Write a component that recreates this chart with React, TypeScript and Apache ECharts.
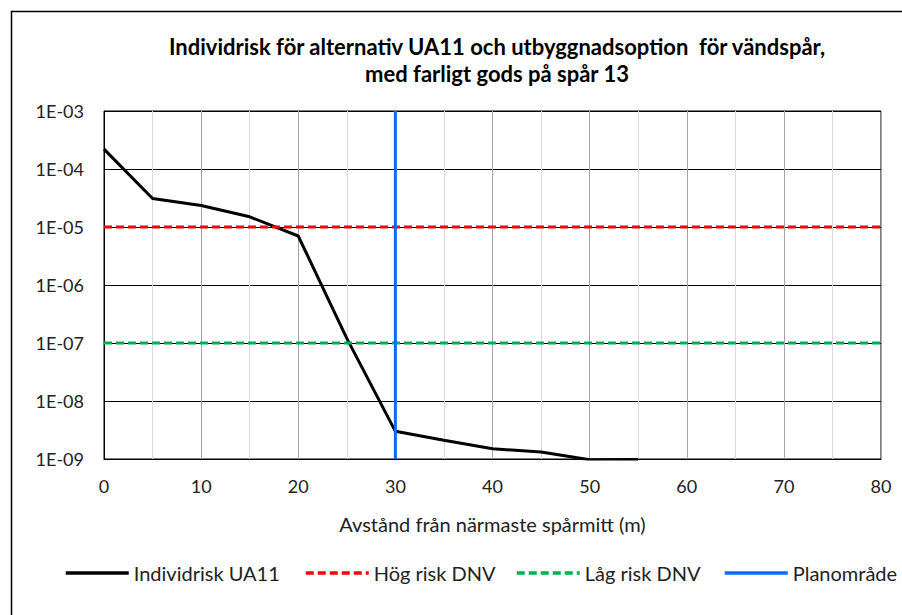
import React, { useEffect, useRef } from "react";
import * as echarts from "echarts";

const titleLines = [
  "Individrisk för alternativ UA11 och utbyggnadsoption  för vändspår,",
  "med farligt gods på spår 13",
];
const xAxisName = "Avstånd från närmaste spårmitt (m)";
const seriesNames = ["Individrisk UA11", "Hög risk DNV", "Låg risk DNV", "Planområde"];

const distances = [0, 5, 10, 15, 20, 25, 30, 35, 40, 45, 50, 55];
const individrisk = [2.2e-4, 3.1e-5, 2.35e-5, 1.5e-5, 7.0e-6, 1.2e-7, 3.0e-9, 2.1e-9, 1.5e-9, 1.32e-9, 9.7e-10, 9.8e-10];
const hogRisk = 1e-5;
const lagRisk = 1e-7;
const planX = 30;
const xRange = [0, 80];
const yRange = [1e-9, 1e-3];

const FONT = "Lato, 'Noto Sans', sans-serif";

export default function App() {
  const ref = useRef<HTMLDivElement>(null);
  useEffect(() => {
    if (!ref.current) return;
    const chart = echarts.init(ref.current, undefined, { renderer: "svg" });
    const fmt = (v: number) => {
      const e = Math.round(Math.log10(v));
      return "1E" + (e < 0 ? "-" : "+") + String(Math.abs(e)).padStart(2, "0");
    };
    const legendLefts = [64, 304, 515, 723];
    chart.setOption({
      animation: false,
      textStyle: { fontFamily: FONT },
      graphic: [
        {
          type: "rect",
          shape: { x: 11.5, y: 11.5, width: 1200, height: 1200 },
          style: { fill: "none", stroke: "#000", lineWidth: 1.5 },
          silent: true,
        },
        {
          type: "text",
          x: 497,
          y: 46,
          style: {
            text: titleLines[0],
            font: `bold 22px ${FONT}`,
            fill: "#000",
            textAlign: "center",
            textVerticalAlign: "middle",
          },
        },
        {
          type: "text",
          x: 497,
          y: 73,
          style: {
            text: titleLines[1],
            font: `bold 22px ${FONT}`,
            fill: "#000",
            textAlign: "center",
            textVerticalAlign: "middle",
          },
        },
      ],
      grid: {
        left: 104,
        top: 111,
        width: 777,
        height: 348,
        show: true,
        borderColor: "#000",
        borderWidth: 1,
        containLabel: false,
      },
      legend: seriesNames.map((n, i) => ({
        data: [n],
        left: legendLefts[i],
        top: 563,
        padding: 0,
        itemWidth: 63,
        itemHeight: 20,
        itemGap: 0,
        itemStyle: { color: "transparent", borderWidth: 0, opacity: 0 },
        lineStyle: { width: 3.5 },
        textStyle: { fontSize: 20, color: "#222", fontFamily: FONT },
      })),
      xAxis: {
        type: "value",
        min: xRange[0],
        max: xRange[1],
        interval: 10,
        name: xAxisName,
        nameLocation: "middle",
        nameGap: 55,
        nameTextStyle: { fontSize: 20, color: "#222" },
        axisLine: { show: true, lineStyle: { color: "#000", width: 1 } },
        axisTick: { show: false },
        axisLabel: { fontSize: 18, color: "#222", margin: 18 },
        splitLine: { show: true, lineStyle: { color: "#a6a6a6", width: 1 } },
        minorTick: { show: false, splitNumber: 2 },
        minorSplitLine: { show: true, lineStyle: { color: "#d9d9d9", width: 1 } },
      },
      yAxis: {
        type: "log",
        logBase: 10,
        min: yRange[0],
        max: yRange[1],
        axisLine: { show: true, lineStyle: { color: "#000", width: 1 } },
        axisTick: { show: false },
        axisLabel: { fontSize: 18, color: "#222", margin: 20, formatter: fmt },
        splitLine: { show: true, lineStyle: { color: "#000", width: 1 } },
      },
      series: [
        {
          name: seriesNames[0],
          type: "line",
          data: distances.map((d, i) => [d, individrisk[i]]),
          symbol: "none",
          color: "#000",
          lineStyle: { color: "#000", width: 3 },
        },
        {
          name: seriesNames[1],
          type: "line",
          data: [[xRange[0], hogRisk], [xRange[1], hogRisk]],
          symbol: "none",
          color: "#ff0000",
          lineStyle: { color: "#ff0000", width: 3, type: [8, 4] },
        },
        {
          name: seriesNames[2],
          type: "line",
          data: [[xRange[0], lagRisk], [xRange[1], lagRisk]],
          symbol: "none",
          color: "#00b050",
          lineStyle: { color: "#00b050", width: 3, type: [8, 4] },
        },
        {
          name: seriesNames[3],
          type: "line",
          data: [[planX, yRange[0]], [planX, yRange[1]]],
          symbol: "none",
          color: "#0a6cf5",
          lineStyle: { color: "#0a6cf5", width: 3 },
        },
      ],
    });
    return () => chart.dispose();
  }, []);
  return (
    <div
      ref={ref}
      style={{ position: "fixed", left: 0, top: 0, width: 902, height: 615, background: "#fff" }}
    />
  );
}
